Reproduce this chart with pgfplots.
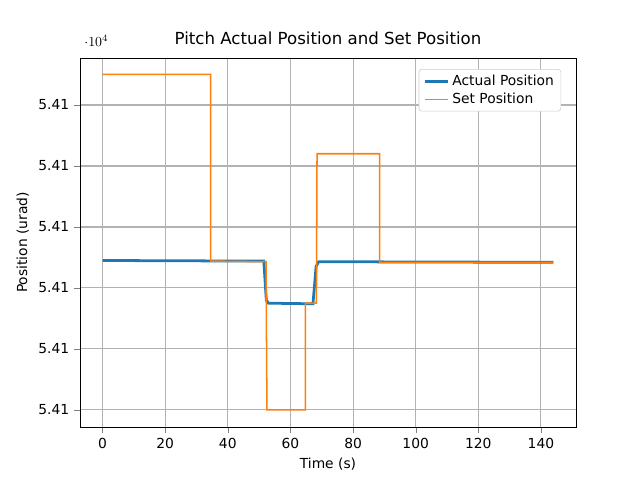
\documentclass[border=0pt]{standalone}
\usepackage{pgfplots}
\pgfplotsset{compat=1.18}
\usepackage{fontspec}
\setmainfont{DejaVu Sans}
\definecolor{mblue}{HTML}{1F77B4}
\definecolor{morange}{HTML}{FF7F0E}
\begin{document}
\begin{tikzpicture}
\begin{axis}[scale only axis, width=4.96in, height=3.69in,
 xmin=-7.2, xmax=151.2, ymin=54067.2, ymax=54127.7,
 xtick={0,20,...,140}, ytick={54070,54080,...,54120},
 /pgf/number format/assume math mode=true,
 /pgf/number format/fixed, /pgf/number format/1000 sep={},
 ticklabel style={font=\fontsize{10}{12}\selectfont},
 label style={font=\fontsize{10}{12}\selectfont},
 grid=major, major grid style={gray!60, line width=0.8pt},
 tick align=outside, tick pos=left,
 title={Pitch Actual Position and Set Position},
 title style={font=\fontsize{12}{14}\selectfont},
 xlabel={Time (s)}, ylabel={Position (urad)},
 legend pos=north east,
 legend style={font=\fontsize{10}{12}\selectfont, draw=gray!40, rounded corners=2pt, cells={anchor=west}},
 legend cell align=left,
]
\addplot[mblue, line width=2pt] coordinates {
(0,54094.5) (51.5,54094.4) (52.3,54088) (53,54087.5) (67.2,54087.4) (68.2,54093.5) (69,54094.3) (144,54094.2)};
\addlegendentry{Actual Position}
\addplot[morange, line width=1.1pt] coordinates {
(0,54125) (34.5,54125) (34.5,54094.4) (52.2,54094.3) (52.5,54070) (64.8,54070) (64.8,54087.5) (68.3,54087.5) (68.5,54112) (88.5,54112) (88.5,54094.2) (144,54094.2)};
\addlegendentry{Set Position}
\coordinate (sw) at (rel axis cs:0,0);
\coordinate (ne) at (rel axis cs:1,1);
\end{axis}
\path (sw) ++(-0.8in,-0.53in) coordinate (a);
\path (ne) ++(0.64in,0.58in) coordinate (b);
\useasboundingbox (a) rectangle (b);
\end{tikzpicture}
\end{document}
